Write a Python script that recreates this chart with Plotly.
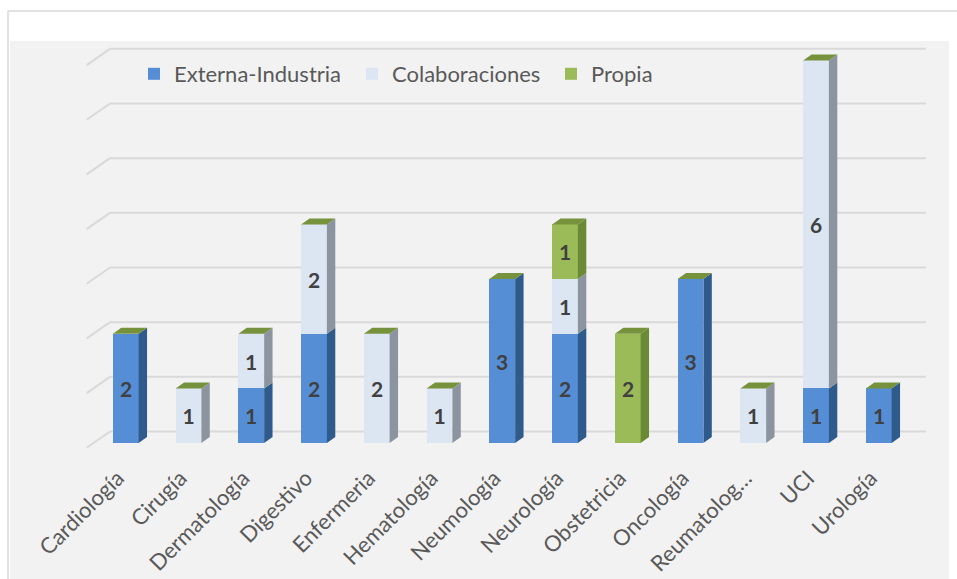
import plotly.graph_objects as go

# ---------------- data ----------------
categories = ["Cardiología", "Cirugía", "Dermatología", "Digestivo", "Enfermeria",
              "Hematología", "Neumología", "Neurología", "Obstetricia", "Oncología",
              "Reumatolog…", "UCI", "Urología"]
externa = [2, 0, 1, 2, 0, 0, 3, 2, 0, 3, 0, 1, 1]
colaboraciones = [0, 1, 1, 2, 2, 1, 0, 1, 0, 0, 1, 6, 0]
propia = [0, 0, 0, 0, 0, 0, 0, 1, 2, 0, 0, 0, 0]
series_names = ["Externa-Industria", "Colaboraciones", "Propia"]
grid_values = [0, 1, 2, 3, 4, 5, 6, 7]

# ---------------- style ----------------
front_colors = ["#558ED5", "#DCE6F2", "#9BBB59"]
side_colors = ["#2F5A8C", "#8C959F", "#6B8A36"]
top_color = "#76923C"
grid_color = "#D9D9D9"
bg_gray = "#F2F2F2"
FONT = "Lato"

W, H = 957, 579
ML, MR, MT, MB = 10, 8, 41, 125
PW, PH = W - ML - MR, H - MT - MB
XR = [-1.845, 13.119]
YR = [-0.2, 7.355]
BAR_W = 0.41
SDX, SDY = 0.134, 0.11          # bar depth (side / top faces)
WALL_DX, WALL_DY = 0.371, 0.298  # floor-to-back-wall diagonal
WALL_X0, WALL_Y0 = -0.623, -0.086


def px_to_paper_x(px):
    return (px - ML) / PW


def px_to_paper_y(py):
    return 1 - (py - MT) / PH


series = [externa, colaboraciones, propia]
x_idx = list(range(len(categories)))

fig = go.Figure()
legend_ids = ["legend", "legend2", "legend3"]
for name, vals, fc, lg in zip(series_names, series, front_colors, legend_ids):
    fig.add_trace(go.Bar(
        x=x_idx, y=vals, name=name, width=BAR_W,
        marker=dict(color=fc, line=dict(width=0)),
        text=[str(v) if v else "" for v in vals],
        textposition="inside", insidetextanchor="middle",
        textangle=0, constraintext="none",
        textfont=dict(family=FONT, size=21, color="#404040", weight="bold"),
        hoverinfo="skip", legend=lg,
    ))

shapes = []
# gray background below plot area
shapes.append(dict(type="rect", xref="paper", yref="paper",
                   x0=0, x1=1, y0=px_to_paper_y(H + 2), y1=0,
                   fillcolor=bg_gray, line=dict(width=0), layer="below"))
# outer frame lines
shapes.append(dict(type="line", xref="paper", yref="paper",
                   x0=px_to_paper_x(8), x1=px_to_paper_x(W + 2),
                   y0=px_to_paper_y(11), y1=px_to_paper_y(11),
                   line=dict(color=grid_color, width=1.5), layer="below"))
shapes.append(dict(type="line", xref="paper", yref="paper",
                   x0=px_to_paper_x(8), x1=px_to_paper_x(8),
                   y0=px_to_paper_y(11), y1=px_to_paper_y(H + 2),
                   line=dict(color=grid_color, width=1.5), layer="below"))

# back-wall gridlines with floor diagonals
n = len(categories)
for v in grid_values:
    xb = WALL_X0 + WALL_DX
    yb = v + WALL_Y0 + WALL_DY
    shapes.append(dict(type="line", xref="x", yref="y",
                       x0=xb, x1=n - 0.25, y0=yb, y1=yb,
                       line=dict(color=grid_color, width=2), layer="below"))
    shapes.append(dict(type="line", xref="x", yref="y",
                       x0=WALL_X0, x1=xb, y0=v + WALL_Y0, y1=yb,
                       line=dict(color=grid_color, width=2), layer="below"))

# 3D side and top faces derived from the data
for i in x_idx:
    base = 0
    right = i + BAR_W / 2
    left = i - BAR_W / 2
    for vals, sc in zip(series, side_colors):
        v = vals[i]
        if v:
            top = base + v
            path = (f"M{right},{base} L{right + SDX},{base + SDY} "
                    f"L{right + SDX},{top + SDY} L{right},{top} Z")
            shapes.append(dict(type="path", xref="x", yref="y", path=path,
                               fillcolor=sc, line=dict(width=0), layer="above"))
            base = top
    path = (f"M{left},{base} L{left + SDX},{base + SDY} "
            f"L{right + SDX},{base + SDY} L{right},{base} Z")
    shapes.append(dict(type="path", xref="x", yref="y", path=path,
                       fillcolor=top_color, line=dict(width=0), layer="above"))

legend_common = dict(orientation="h", xanchor="left", yanchor="middle",
                     bgcolor="rgba(0,0,0,0)",
                     font=dict(family=FONT, size=22, color="#595959"))
legend_x = [134, 352, 551]
legends = {}
for lg, lx in zip(legend_ids, legend_x):
    legends[lg] = dict(legend_common, x=px_to_paper_x(lx), y=px_to_paper_y(74))

fig.update_layout(
    width=W, height=H,
    margin=dict(l=ML, r=MR, t=MT, b=MB, pad=0, autoexpand=False),
    barmode="stack", bargap=0,
    paper_bgcolor="white", plot_bgcolor=bg_gray,
    shapes=shapes,
    showlegend=True,
    xaxis=dict(range=XR, tickmode="array", tickvals=x_idx, ticktext=categories,
               tickangle=-45, showgrid=False, zeroline=False, showline=False,
               ticks="", ticklabelstandoff=6, ticklabelshift=-8,
               automargin=False,
               tickfont=dict(family=FONT, size=22, color="#595959")),
    yaxis=dict(range=YR, showgrid=False, zeroline=False, showline=False,
               showticklabels=False, ticks="", automargin=False),
    **legends,
)

fig.write_html("out.html",
               config={"displayModeBar": False},
               post_script="document.body.style.margin='0';"
                           "document.body.style.overflow='hidden';")
